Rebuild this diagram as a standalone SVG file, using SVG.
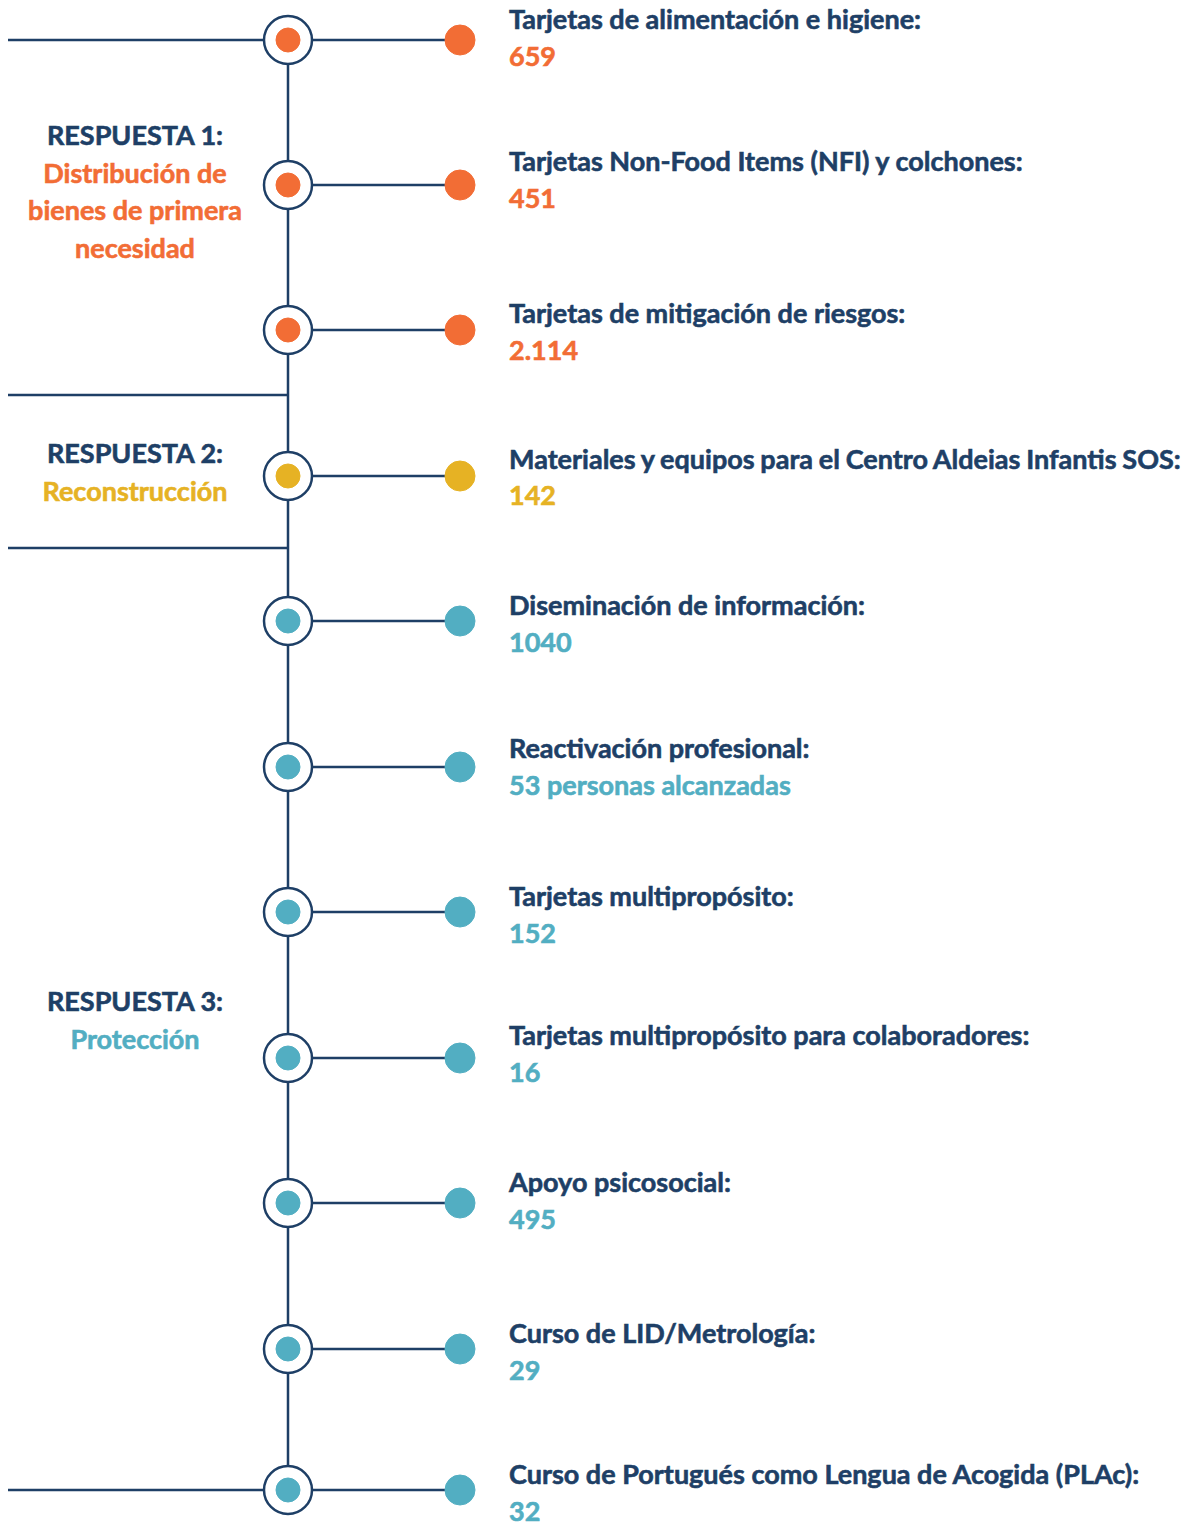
<svg xmlns="http://www.w3.org/2000/svg" width="1187" height="1522" viewBox="0 0 1187 1522">
<style>
text{font-family:Lato,"Open Sans","Liberation Sans",sans-serif;font-weight:700;font-size:27px;stroke-width:0.6}
.t{fill:#1e3f66;stroke:#1e3f66}
.o{fill:#f26d35;stroke:#f26d35}
.y{fill:#e6b224;stroke:#e6b224}
.c{fill:#52aec2;stroke:#52aec2}
circle{stroke:none}
.ln{stroke:#1e3f66;stroke-width:2.5;fill:none}
.ring{stroke:#1e3f66;stroke-width:2.5;fill:#fff}
.lab{text-anchor:middle}
</style>
<rect width="1187" height="1522" fill="#fff"/>
<g id="connectors" class="ln">
<path d="M288 64V1466"/>
<path d="M8 40H264M8 395H288M8 548H288M8 1490H264"/>
<path d="M312 40H445M312 185H445M312 330H445M312 476H445M312 621H445M312 767H445M312 912H445M312 1058H445M312 1203H445M312 1349H445M312 1490H445"/>
</g>
<g id="labels">
<text class="lab t" x="135" y="145">RESPUESTA 1:</text>
<text class="lab o" x="135" y="183">Distribución de</text>
<text class="lab o" x="135" y="220">bienes de primera</text>
<text class="lab o" x="135" y="258">necesidad</text>
<text class="lab t" x="135" y="463">RESPUESTA 2:</text>
<text class="lab y" x="135" y="501">Reconstrucción</text>
<text class="lab t" x="135" y="1011">RESPUESTA 3:</text>
<text class="lab c" x="135" y="1049">Protección</text>
</g>
<g id="n1"><circle class="ring" cx="288" cy="40" r="24"/><circle class="o" cx="288" cy="40" r="12"/><circle class="o" cx="460" cy="40" r="15"/><text class="t" x="509" y="29">Tarjetas de alimentación e higiene:</text><text class="o" x="509" y="66">659</text></g>
<g id="n2"><circle class="ring" cx="288" cy="185" r="24"/><circle class="o" cx="288" cy="185" r="12"/><circle class="o" cx="460" cy="185" r="15"/><text class="t" x="509" y="171">Tarjetas Non-Food Items (NFI) y colchones:</text><text class="o" x="509" y="208">451</text></g>
<g id="n3"><circle class="ring" cx="288" cy="330" r="24"/><circle class="o" cx="288" cy="330" r="12"/><circle class="o" cx="460" cy="330" r="15"/><text class="t" x="509" y="323">Tarjetas de mitigación de riesgos:</text><text class="o" x="509" y="360">2.114</text></g>
<g id="n4"><circle class="ring" cx="288" cy="476" r="24"/><circle class="y" cx="288" cy="476" r="12"/><circle class="y" cx="460" cy="476" r="15"/><text class="t" x="509" y="469" word-spacing="-0.8">Materiales y equipos para el Centro Aldeias Infantis SOS:</text><text class="y" x="509" y="505">142</text></g>
<g id="n5"><circle class="ring" cx="288" cy="621" r="24"/><circle class="c" cx="288" cy="621" r="12"/><circle class="c" cx="460" cy="621" r="15"/><text class="t" x="509" y="615">Diseminación de información:</text><text class="c" x="509" y="652">1040</text></g>
<g id="n6"><circle class="ring" cx="288" cy="767" r="24"/><circle class="c" cx="288" cy="767" r="12"/><circle class="c" cx="460" cy="767" r="15"/><text class="t" x="509" y="758">Reactivación profesional:</text><text class="c" x="509" y="795">53 personas alcanzadas</text></g>
<g id="n7"><circle class="ring" cx="288" cy="912" r="24"/><circle class="c" cx="288" cy="912" r="12"/><circle class="c" cx="460" cy="912" r="15"/><text class="t" x="509" y="906">Tarjetas multipropósito:</text><text class="c" x="509" y="943">152</text></g>
<g id="n8"><circle class="ring" cx="288" cy="1058" r="24"/><circle class="c" cx="288" cy="1058" r="12"/><circle class="c" cx="460" cy="1058" r="15"/><text class="t" x="509" y="1045">Tarjetas multipropósito para colaboradores:</text><text class="c" x="509" y="1082">16</text></g>
<g id="n9"><circle class="ring" cx="288" cy="1203" r="24"/><circle class="c" cx="288" cy="1203" r="12"/><circle class="c" cx="460" cy="1203" r="15"/><text class="t" x="509" y="1192">Apoyo psicosocial:</text><text class="c" x="509" y="1229">495</text></g>
<g id="n10"><circle class="ring" cx="288" cy="1349" r="24"/><circle class="c" cx="288" cy="1349" r="12"/><circle class="c" cx="460" cy="1349" r="15"/><text class="t" x="509" y="1343">Curso de LID/Metrología:</text><text class="c" x="509" y="1380">29</text></g>
<g id="n11"><circle class="ring" cx="288" cy="1490" r="24"/><circle class="c" cx="288" cy="1490" r="12"/><circle class="c" cx="460" cy="1490" r="15"/><text class="t" x="509" y="1484">Curso de Portugués como Lengua de Acogida (PLAc):</text><text class="c" x="509" y="1521">32</text></g>
</svg>
